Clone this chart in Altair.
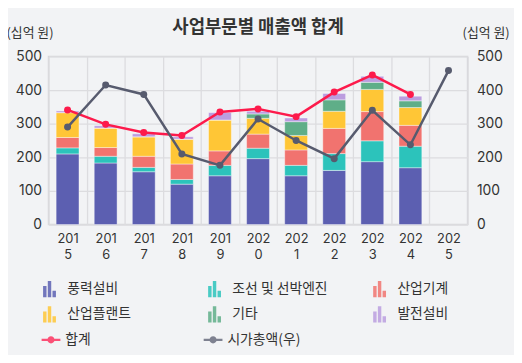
import altair as alt
import pandas as pd

years = ["2015", "2016", "2017", "2018", "2019", "2020", "2021", "2022", "2023", "2024", "2025"]
bar_years = years[:10]

series_names = ["풍력설비", "조선 및 선박엔진", "산업기계", "산업플랜트", "기타", "발전설비"]
series_colors = ["#5c5fb1", "#2cc3bb", "#f1736f", "#ffc636", "#5fae88", "#bb9ddf"]

wind = [210, 183, 157, 120, 145, 196, 145, 161, 187, 169]
ship = [18, 20, 13, 14, 31, 31, 31, 50, 62, 64]
machine = [31, 26, 33, 46, 43, 42, 46, 75, 87, 62]
plant = [74, 58, 58, 74, 92, 47, 43, 51, 66, 53]
other = [0, 0, 0, 0, 0, 13, 41, 34, 21, 20]
power = [5, 7, 9, 7, 22, 8, 11, 19, 18, 14]

total = [341, 298, 274, 265, 335, 344, 321, 394, 445, 387]
mcap = [290, 415, 387, 210, 176, 314, 250, 196, 340, 237, 458]

line_names = ["합계", "시가총액(우)"]
line_colors = ["#fd1a4b", "#575b6e"]

rows = []
for k, (name, vals) in enumerate(zip(series_names, [wind, ship, machine, plant, other, power])):
    for yr, v in zip(bar_years, vals):
        rows.append({"year": yr, "series": name, "value": v, "ord": k})
bar_df = pd.DataFrame(rows)
total_df = pd.DataFrame({"year": bar_years, "value": total, "series": line_names[0]})
mcap_df = pd.DataFrame({"year": years, "value": mcap, "series": line_names[1]})

BAR_ICON = ("M-0.75,0.95V-0.35H-0.35V0.95Z M-0.2,0.95V-0.95H0.2V0.95Z "
            "M0.35,0.95V0.2H0.75V0.95Z")
LINE_ICON = ("M-1,-0.11H1V0.11H-1Z M0.38,0A0.38,0.38 0 1,1 -0.38,0"
             "A0.38,0.38 0 1,1 0.38,0Z")

x_enc = alt.X(
    "year:N",
    scale=alt.Scale(domain=years, paddingInner=0, paddingOuter=0),
    axis=alt.Axis(
        title=None, labelAngle=0, tickBand="extent", ticks=False, domain=False,
        labelExpr="[slice(datum.label, 0, 3), slice(datum.label, 3)]",
        labelLineHeight=16, labelPadding=8, labelFontSize=13, labelFont="Inter",
        labelColor="#333333", grid=True,
    ),
)

yvals = [0, 100, 200, 300, 400, 500]
left_axis = alt.Axis(
    orient="left", title="(십억 원)", titleAngle=0, titleAlign="left",
    titleBaseline="middle", titleX=-43, titleY=-24, titleFontSize=13,
    titleFontWeight="normal", titleColor="#333333", values=yvals, labelFontSize=14,
    labelFont="Inter", labelPadding=7, labelColor="#333333", grid=True,
)
right_axis = alt.Axis(
    orient="right", title="(십억 원)", titleAngle=0, titleAlign="right",
    titleBaseline="middle", titleX=42, titleY=-24, titleFontSize=13,
    titleFontWeight="normal", titleColor="#333333", values=yvals,
    labelFontSize=14, labelFont="Inter", labelPadding=9, labelColor="#333333",
    grid=False,
)
y_left = alt.Y("value:Q", stack="zero", scale=alt.Scale(domain=[0, 500]), axis=left_axis)
y_left_line = alt.Y("value:Q", scale=alt.Scale(domain=[0, 500]), axis=left_axis)
y_right = alt.Y("value:Q", scale=alt.Scale(domain=[0, 500]), axis=right_axis)

legend_bars = alt.Legend(
    title=None, orient="none", legendX=-8, legendY=226, columns=3,
    direction="horizontal", gridAlign="all", columnPadding=43, rowPadding=8,
    symbolType=BAR_ICON, symbolSize=300, symbolOpacity=0.85, symbolStrokeWidth=0,
    labelOffset=9, labelFontSize=14, labelColor="#333333", padding=0,
    labelFont="Noto Sans CJK KR",
)
legend_lines = alt.Legend(
    title=None, orient="none", legendX=-7, legendY=277, columns=3,
    direction="horizontal", gridAlign="all", columnPadding=66,
    symbolType=LINE_ICON, symbolSize=361, symbolOpacity=0.75, symbolStrokeWidth=0,
    labelOffset=5, labelFontSize=14, labelColor="#333333", padding=0,
    labelFont="Noto Sans CJK KR",
)

bars = alt.Chart(bar_df).mark_bar(
    width={"band": 0.6}, stroke="#ffffff", strokeOpacity=0.4, strokeWidth=1
).encode(
    x=x_enc,
    y=y_left,
    color=alt.Color("series:N", scale=alt.Scale(domain=series_names, range=series_colors),
                    legend=legend_bars, sort=series_names),
    order=alt.Order("ord:Q"),
)

fill_scale = alt.Scale(domain=line_names, range=line_colors)

total_line = alt.Chart(total_df).mark_line(color=line_colors[0], strokeWidth=2.5).encode(
    x=x_enc, y=y_left_line)
total_pts = alt.Chart(total_df).mark_point(filled=True, size=50, opacity=1).encode(
    x=x_enc, y=y_left_line,
    fill=alt.Fill("series:N", scale=fill_scale, legend=legend_lines))

mcap_line = alt.Chart(mcap_df).mark_line(color=line_colors[1], strokeWidth=2.5).encode(
    x=x_enc, y=y_right)
mcap_pts = alt.Chart(mcap_df).mark_point(filled=True, size=50, opacity=1).encode(
    x=x_enc, y=y_right,
    fill=alt.Fill("series:N", scale=fill_scale, legend=legend_lines))

left = alt.layer(bars, total_line, total_pts)
right = alt.layer(mcap_line, mcap_pts)

chart = alt.layer(left, right).resolve_scale(y="independent").properties(
    width=424, height=170,
    title=alt.TitleParams("사업부문별 매출액 합계", fontSize=18, fontWeight="bold",
                          color="#333333", anchor="middle", offset=0, dy=10,
                          font="Noto Sans CJK KR"),
    autosize=alt.AutoSizeParams(type="none"),
    padding={"left": 41, "top": 47, "right": 47, "bottom": 130},
).configure(
    font="Noto Sans CJK KR", background="#f2f3f5"
).configure_view(
    stroke="#d6d6da", strokeWidth=1.5
).configure_axis(
    gridColor="#dcdcdf", gridWidth=1.3, domain=False, ticks=False
)

chart.save("out.html", embed_options={"renderer": "svg", "actions": False})
